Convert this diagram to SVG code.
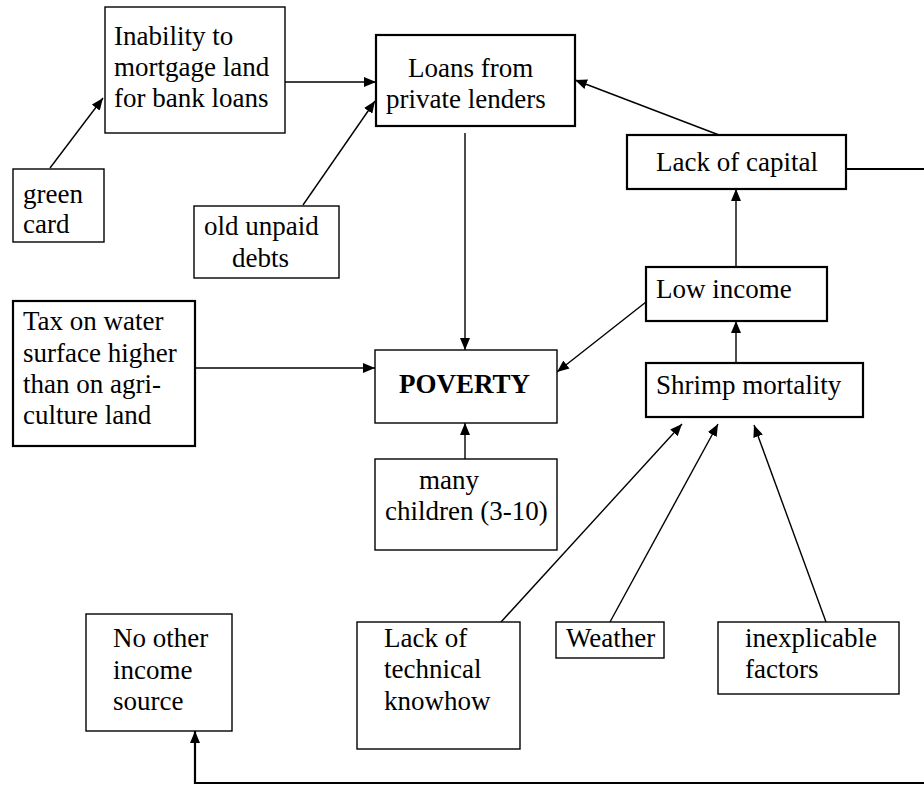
<svg xmlns="http://www.w3.org/2000/svg" width="924" height="786" viewBox="0 0 924 786">
<style>
  .box { fill: #fff; stroke: #000; stroke-width: 1.4; }
  .thick { stroke-width: 2.2; }
  .t { font-family: "Liberation Serif", "Times New Roman", serif; font-size: 27px; fill: #000; }
  .b { font-weight: bold; }
  .ln { fill: none; stroke: #000; stroke-width: 1.4; }
  .lt { fill: none; stroke: #000; stroke-width: 2.2; }
</style>
<defs>
  <marker id="ah" viewBox="0 0 12 10" refX="12" refY="5" markerWidth="12" markerHeight="10" markerUnits="userSpaceOnUse" orient="auto">
    <path d="M0,0 L12,5 L0,10 z" fill="#000"/>
  </marker>
</defs>
<rect width="924" height="786" fill="#fff"/>

<g id="connectors">
  <line class="ln" x1="50" y1="168" x2="103" y2="98" marker-end="url(#ah)"/>
  <line class="ln" x1="285" y1="82" x2="376" y2="82" marker-end="url(#ah)"/>
  <line class="ln" x1="303" y1="205" x2="375" y2="101" marker-end="url(#ah)"/>
  <line class="ln" x1="719" y1="135" x2="575" y2="80" marker-end="url(#ah)"/>
  <line class="ln" x1="465" y1="133" x2="465" y2="350" marker-end="url(#ah)"/>
  <line class="ln" x1="736" y1="267" x2="736" y2="189" marker-end="url(#ah)"/>
  <line class="ln" x1="736" y1="363" x2="736" y2="321" marker-end="url(#ah)"/>
  <line class="ln" x1="646" y1="302" x2="557" y2="372" marker-end="url(#ah)"/>
  <line class="ln" x1="195" y1="368" x2="375" y2="368" marker-end="url(#ah)"/>
  <line class="ln" x1="465" y1="459" x2="465" y2="423" marker-end="url(#ah)"/>
  <line class="ln" x1="501" y1="622" x2="682" y2="424" marker-end="url(#ah)"/>
  <line class="ln" x1="610" y1="622" x2="718" y2="424" marker-end="url(#ah)"/>
  <line class="ln" x1="826" y1="622" x2="754" y2="425" marker-end="url(#ah)"/>
  <path class="lt" d="M846,169 H930 V783 H195 V731" marker-end="url(#ah)"/>
</g>

<g id="inability">
  <rect class="box" x="105" y="7" width="180" height="126"/>
  <text class="t" x="114" y="45">Inability to</text>
  <text class="t" x="114" y="76">mortgage land</text>
  <text class="t" x="114" y="107">for bank loans</text>
</g>
<g id="green-card">
  <rect class="box" x="13" y="169" width="91" height="73"/>
  <text class="t" x="23" y="203">green</text>
  <text class="t" x="23" y="233">card</text>
</g>
<g id="loans">
  <rect class="box thick" x="376" y="35" width="199" height="91"/>
  <text class="t" x="408" y="77">Loans from</text>
  <text class="t" x="386" y="108">private lenders</text>
</g>
<g id="old-debts">
  <rect class="box" x="194" y="206" width="145" height="72"/>
  <text class="t" x="204" y="235">old unpaid</text>
  <text class="t" x="232" y="267">debts</text>
</g>
<g id="lack-capital">
  <rect class="box thick" x="627" y="135" width="219" height="54"/>
  <text class="t" x="656" y="171">Lack of capital</text>
</g>
<g id="tax">
  <rect class="box thick" x="13" y="301" width="182" height="145"/>
  <text class="t" x="23" y="330">Tax on water</text>
  <text class="t" x="23" y="362">surface higher</text>
  <text class="t" x="23" y="393">than on agri-</text>
  <text class="t" x="23" y="424">culture land</text>
</g>
<g id="poverty">
  <rect class="box" x="375" y="350" width="182" height="73"/>
  <text class="t b" x="399" y="393">POVERTY</text>
</g>
<g id="low-income">
  <rect class="box thick" x="646" y="267" width="181" height="54"/>
  <text class="t" x="656" y="298">Low income</text>
</g>
<g id="shrimp">
  <rect class="box thick" x="646" y="363" width="217" height="54"/>
  <text class="t" x="656" y="394">Shrimp mortality</text>
</g>
<g id="children">
  <rect class="box" x="375" y="459" width="182" height="91"/>
  <text class="t" x="419" y="489">many</text>
  <text class="t" x="385" y="520">children (3-10)</text>
</g>
<g id="no-other">
  <rect class="box" x="86" y="614" width="146" height="117"/>
  <text class="t" x="113" y="647">No other</text>
  <text class="t" x="113" y="679">income</text>
  <text class="t" x="113" y="710">source</text>
</g>
<g id="technical">
  <rect class="box" x="357" y="622" width="163" height="127"/>
  <text class="t" x="384" y="647">Lack of</text>
  <text class="t" x="384" y="678">technical</text>
  <text class="t" x="384" y="710">knowhow</text>
</g>
<g id="weather">
  <rect class="box" x="556" y="622" width="108" height="36"/>
  <text class="t" x="566" y="647">Weather</text>
</g>
<g id="inexplicable">
  <rect class="box" x="718" y="622" width="181" height="72"/>
  <text class="t" x="745" y="647">inexplicable</text>
  <text class="t" x="745" y="678">factors</text>
</g>
</svg>
